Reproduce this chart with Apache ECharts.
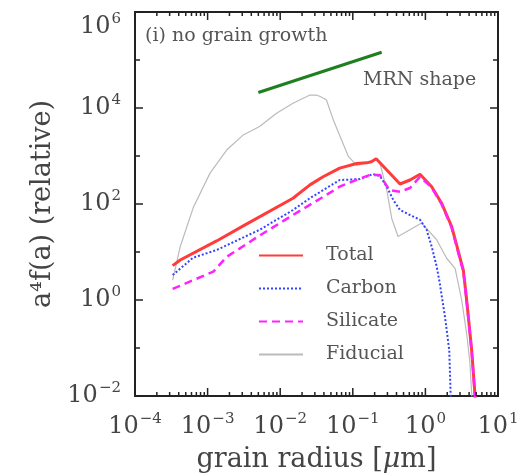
<!DOCTYPE html>
<html>
<head>
<meta charset="utf-8">
<script src="https://cdn.jsdelivr.net/npm/echarts@6/dist/echarts.min.js"></script>
<style>
  html, body { margin: 0; padding: 0; background: #fff; }
  #chart { width: 526px; height: 476px; }
</style>
</head>
<body>
<div id="chart"></div>
<script>
const SERIF = '"DejaVu Serif", "Liberation Serif", serif';
const INK = '#444';

// grain radius [um] and a^4 f(a)
const totalA = [3.3e-4, 4.2e-4, 1.33e-3, 3.1e-3, 0.015, 0.0257, 0.039, 0.066, 0.113, 0.155, 0.18, 0.21, 0.447, 0.614, 0.843, 1.22, 1.68, 2.3, 2.69, 3.0, 3.33, 3.7, 4.34, 4.82, 5.2];
const totalF = [5.2, 6.8, 17, 35, 132, 250, 370, 560, 700, 720, 760, 880, 261, 316, 417, 229, 102, 34, 14, 7.5, 4.2, 1, 0.09, 0.0105, 0.001];

const carbonA = [3.3e-4, 6.3e-4, 1.33e-3, 5.2e-3, 0.015, 0.0257, 0.0434, 0.066, 0.126, 0.19, 0.237, 0.293, 0.363, 0.447, 0.614, 0.843, 1.04, 1.22, 1.43, 1.58, 1.86, 2.13, 2.23, 2.3];
const carbonF = [3.3, 7.6, 11, 29, 75, 132, 215, 316, 330, 420, 380, 230, 120, 75, 59, 47, 29, 13, 5, 2.2, 0.45, 0.09, 0.01, 0.001];

const silicateA = [3.3e-4, 1.2e-3, 1.83e-3, 5.2e-3, 0.015, 0.0434, 0.066, 0.113, 0.17, 0.237, 0.32, 0.447, 0.614, 0.843, 1.22, 1.68, 2.3, 2.69, 3.0, 3.33, 3.7, 4.34, 4.82, 5.2];
const silicateF = [1.7, 3.9, 7.9, 22, 59, 155, 230, 320, 400, 400, 195, 180, 215, 370, 220, 98, 32, 13, 7, 4, 0.95, 0.085, 0.01, 0.001];

const fiducialA = [3.3e-4, 4.2e-4, 6.4e-4, 1.08e-3, 1.83e-3, 3.1e-3, 5.2e-3, 8.9e-3, 0.015, 0.0257, 0.0316, 0.0355, 0.0434, 0.054, 0.07, 0.087, 0.113, 0.155, 0.21, 0.237, 0.293, 0.344, 0.42, 0.89, 1.43, 1.95, 2.57, 3.16, 3.7, 4.1, 4.4, 4.6];
const fiducialF = [2.6, 13, 87, 440, 1330, 2750, 4100, 7800, 12600, 18600, 18600, 17400, 14700, 5600, 2150, 980, 640, 720, 850, 700, 200, 50, 21, 40, 18, 7.5, 4.5, 1, 0.2, 0.05, 0.008, 0.001];

const mrnA = [5e-3, 0.25];
const mrnF = [2.1e4, 1.45e5];

const xMajor = [1e-4, 1e-3, 1e-2, 1e-1, 1, 10];
const yLabelled = [1e-2, 1, 1e2, 1e4, 1e6];
const yOdd = [1e-1, 1e1, 1e3, 1e5];

const X = { min: 1e-4, max: 10 };
const Y = { min: 1e-2, max: 1e6 };

// minor ticks at 2..9 of each decade
const xMinor = [];
xMajor.slice(0, -1).forEach(d => { for (let k = 2; k <= 9; k++) xMinor.push(d * k); });

// [x, y, tick length, 0 = vertical tick on x axes / 1 = horizontal tick on y axes]
const tickData = [
    ...xMajor.map(v => [v, 1, 8, 0]),
    ...xMinor.map(v => [v, 1, 4, 0]),
    ...yLabelled.map(v => [1, v, 8, 1]),
    ...yOdd.map(v => [1, v, 5, 1]),
];

const pairs = (a, f) => a.map((v, i) => [v, f[i]]);

const powLabel = v => {
    const e = Math.round(Math.log10(v));
    return '{b|10}{s|' + String(e).replace('-', '\u2212') + '}';
};
const labelRich = {
    b: { fontFamily: SERIF, fontSize: 24, color: INK, lineHeight: 30 },
    s: { fontFamily: SERIF, fontSize: 15, color: INK, verticalAlign: 'top', lineHeight: 30, padding: [0, 0, 10, 1] },
};

const chart = echarts.init(document.getElementById('chart'), null, { renderer: 'canvas' });

function renderTick(params, api) {
    const len = api.value(2);
    const dir = api.value(3);
    const style = { stroke: '#222', lineWidth: 1.5 };
    let a, b;
    if (dir === 0) {
        const v = api.value(0);
        a = api.coord([v, Y.min]);
        b = api.coord([v, Y.max]);
        return { type: 'group', children: [
            { type: 'line', shape: { x1: a[0], y1: a[1], x2: a[0], y2: a[1] - len }, style },
            { type: 'line', shape: { x1: b[0], y1: b[1], x2: b[0], y2: b[1] + len }, style },
        ] };
    }
    const v = api.value(1);
    a = api.coord([X.min, v]);
    b = api.coord([X.max, v]);
    return { type: 'group', children: [
        { type: 'line', shape: { x1: a[0], y1: a[1], x2: a[0] + len, y2: a[1] }, style },
        { type: 'line', shape: { x1: b[0], y1: b[1], x2: b[0] - len, y2: b[1] }, style },
    ] };
}

const lineSeries = (name, data, color, width, type, z) => ({
    name, type: 'line', data,
    symbol: 'none', smooth: false, z,
    lineStyle: { color, width, type },
    itemStyle: { color },
});

chart.setOption({
    animation: false,
    grid: { left: 135, right: 28, top: 12, bottom: 80, containLabel: false, outerBoundsMode: 'none',
            show: true, borderColor: '#222', borderWidth: 2, backgroundColor: 'transparent' },
    xAxis: {
        type: 'log', logBase: 10, min: X.min, max: X.max,
        axisLine: { show: false, onZero: false },
        axisTick: { show: false },
        axisLabel: { show: true, customValues: xMajor, formatter: powLabel, rich: labelRich, margin: 16 },
        splitLine: { show: false },
        name: '{t|grain radius [}{i|\u03bc}{t|m]}',
        nameLocation: 'middle',
        nameGap: 50,
        nameTextStyle: { rich: {
            t: { fontFamily: SERIF, fontSize: 27, color: INK },
            i: { fontFamily: SERIF, fontSize: 27, color: INK, fontStyle: 'italic' },
        } },
    },
    yAxis: {
        type: 'log', logBase: 10, min: Y.min, max: Y.max,
        axisLine: { show: false, onZero: false },
        axisTick: { show: false },
        axisLabel: { show: true, customValues: yLabelled, formatter: powLabel, rich: labelRich, margin: 14,
                     verticalAlignMaxLabel: 'top' },
        splitLine: { show: false },
        name: 'a\u2074f(a) (relative)',
        nameLocation: 'middle',
        nameGap: 77,
        nameTextStyle: { fontFamily: SERIF, fontSize: 27, color: INK },
    },
    legend: {
        data: ['Total', 'Carbon', 'Silicate', 'Fiducial'],
        orient: 'vertical',
        left: 258, top: 246, padding: 0,
        itemWidth: 44, itemHeight: 14, itemGap: 14,
        itemStyle: { opacity: 0 },
        textStyle: { fontFamily: SERIF, fontSize: 19, color: '#555', padding: [0, 0, 0, 18] },
    },
    graphic: [
        { type: 'text', left: 145, top: 27, style: { text: '(i) no grain growth', font: '19px ' + SERIF, fill: '#555' } },
        { type: 'text', left: 363, top: 71, style: { text: 'MRN shape', font: '19px ' + SERIF, fill: '#555' } },
    ],
    series: [
        lineSeries('Fiducial', pairs(fiducialA, fiducialF), '#bbbbbb', 1.2, 'solid', 2),
        lineSeries('Total', pairs(totalA, totalF), '#ff3b3b', 3, 'solid', 3),
        lineSeries('Carbon', pairs(carbonA, carbonF), '#3344ff', 2, [2, 2], 4),
        lineSeries('Silicate', pairs(silicateA, silicateF), '#ff22ff', 2.5, [8, 5], 5),
        lineSeries('MRN', pairs(mrnA, mrnF), '#1f7f1f', 3, 'solid', 6),
        {
            type: 'custom', name: 'ticks', data: tickData, renderItem: renderTick,
            encode: { x: 0, y: 1 }, clip: false, silent: true, z: 10,
        },
    ],
});
</script>
</body>
</html>
